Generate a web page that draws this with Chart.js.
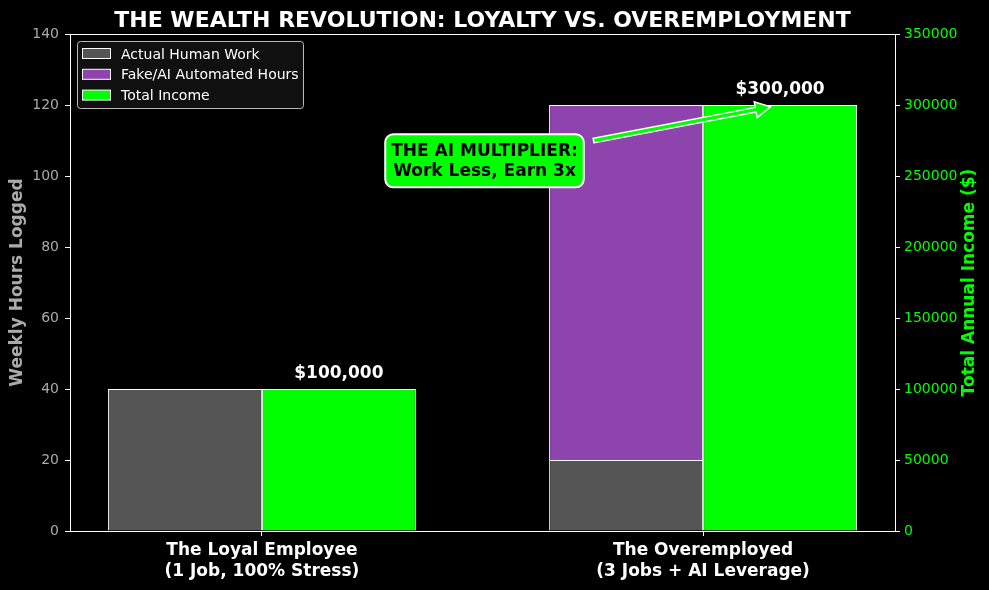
<!DOCTYPE html>
<html>
<head>
<meta charset="utf-8">
<script src="https://cdn.jsdelivr.net/npm/chart.js@4/dist/chart.umd.min.js"></script>
<style>
  html, body { margin: 0; padding: 0; background: #000; }
  #wrap { width: 989px; height: 590px; }
</style>
</head>
<body>
<div id="wrap"><canvas id="myChart"></canvas></div>
<script>
// chart values
const categories = [
  ['The Loyal Employee', '(1 Job, 100% Stress)'],
  ['The Overemployed', '(3 Jobs + AI Leverage)']
];
const groupX = [0, 1];
const humanHours = [40, 20];
const aiHours = [0, 100];
const income = [100000, 300000];
const chartTitle = 'THE WEALTH REVOLUTION: LOYALTY VS. OVEREMPLOYMENT';
const noteText = ['THE AI MULTIPLIER:', 'Work Less, Earn 3x'];
const noteAt = [0.5, 260000];
const noteTarget = [1.175, 300000];

const FONT = "'DejaVu Sans', sans-serif";
const LIME = '#00ff00';

function points(vals) {
  return vals.map((v, i) => ({ x: groupX[i], y: v }));
}

const data = {
  datasets: [
    {
      label: 'Actual Human Work',
      data: points(humanHours),
      backgroundColor: '#555555',
      borderColor: '#ffffff',
      borderWidth: 1,
      stack: 'hours',
      yAxisID: 'y'
    },
    {
      label: 'Fake/AI Automated Hours',
      data: points(aiHours),
      backgroundColor: '#8e44ad',
      borderColor: '#ffffff',
      borderWidth: 1,
      stack: 'hours',
      yAxisID: 'y'
    },
    {
      label: 'Total Income',
      data: points(income),
      backgroundColor: LIME,
      borderColor: '#ffffff',
      borderWidth: 1,
      stack: 'income',
      yAxisID: 'y2'
    }
  ]
};

// title, frame, legend, labels and the annotation
const extras = {
  id: 'extras',
  afterDraw(chart) {
    const ctx = chart.ctx;
    const area = chart.chartArea;
    const xs = chart.scales.x, ys2 = chart.scales.y2;
    ctx.save();

    // frame
    ctx.strokeStyle = '#ffffff';
    ctx.lineWidth = 1;
    ctx.strokeRect(Math.round(area.left) + 0.5, Math.round(area.top) + 0.5,
      Math.round(area.right - area.left), Math.round(area.bottom - area.top));

    // title
    ctx.fillStyle = '#ffffff';
    ctx.font = 'bold 22px ' + FONT;
    ctx.textAlign = 'center';
    ctx.textBaseline = 'alphabetic';
    ctx.fillText(chartTitle, (area.left + area.right) / 2, 27);

    // right axis title, reading upwards
    ctx.save();
    ctx.translate(970, (area.top + area.bottom) / 2);
    ctx.rotate(-Math.PI / 2);
    ctx.fillStyle = LIME;
    ctx.font = 'bold 17px ' + FONT;
    ctx.textBaseline = 'middle';
    ctx.fillText('Total Annual Income ($)', 0, 0);
    ctx.restore();

    // value labels on income bars
    const meta = chart.getDatasetMeta(2);
    ctx.fillStyle = '#ffffff';
    ctx.font = 'bold 17px ' + FONT;
    ctx.textAlign = 'center';
    meta.data.forEach((bar, i) => {
      ctx.fillText('$' + income[i].toLocaleString('en-US'), bar.x, bar.y - 11);
    });

    // annotation arrow
    const p0 = { x: xs.getPixelForValue(noteAt[0]), y: ys2.getPixelForValue(noteAt[1]) };
    const p1 = { x: xs.getPixelForValue(noteTarget[0]), y: ys2.getPixelForValue(noteTarget[1]) };
    ctx.font = 'bold 17px ' + FONT;
    const tw = Math.max(...noteText.map(t => ctx.measureText(t).width));
    const hw = tw / 2 + 6, hh = 26.5;
    const dx = p1.x - p0.x, dy = p1.y - p0.y;
    const len = Math.hypot(dx, dy);
    const ux = dx / len, uy = dy / len;
    const tExit = Math.min(hw / Math.abs(ux), hh / Math.abs(uy));
    const s = { x: p0.x + ux * (tExit + 12), y: p0.y + uy * (tExit + 12) };
    const e = { x: p1.x - ux * 10, y: p1.y - uy * 10 };
    const nx = -uy, ny = ux;
    const sw = 2.3, hwid = 8, hl = 15;
    const b = { x: e.x - ux * hl, y: e.y - uy * hl };
    ctx.beginPath();
    ctx.moveTo(s.x + nx * sw, s.y + ny * sw);
    ctx.lineTo(b.x + nx * sw, b.y + ny * sw);
    ctx.lineTo(b.x + nx * hwid, b.y + ny * hwid);
    ctx.lineTo(e.x, e.y);
    ctx.lineTo(b.x - nx * hwid, b.y - ny * hwid);
    ctx.lineTo(b.x - nx * sw, b.y - ny * sw);
    ctx.lineTo(s.x - nx * sw, s.y - ny * sw);
    ctx.closePath();
    ctx.fillStyle = LIME;
    ctx.fill();
    ctx.strokeStyle = '#ffffff';
    ctx.lineWidth = 1.5;
    ctx.stroke();

    // annotation box
    const cx = p0.x + 2, cy = p0.y - 1;
    ctx.beginPath();
    ctx.roundRect(cx - hw, cy - hh, hw * 2, hh * 2, 8);
    ctx.fillStyle = LIME;
    ctx.fill();
    ctx.strokeStyle = '#ffffff';
    ctx.lineWidth = 2;
    ctx.stroke();
    ctx.fillStyle = '#000000';
    ctx.textAlign = 'center';
    ctx.textBaseline = 'alphabetic';
    ctx.fillText(noteText[0], cx, cy - 4.5);
    ctx.fillText(noteText[1], cx, cy + 15.5);

    // legend
    const lx = area.left + 7, ly = area.top + 7;
    ctx.beginPath();
    ctx.roundRect(lx + 0.5, ly + 0.5, 226, 67, 3);
    ctx.fillStyle = '#101010';
    ctx.fill();
    ctx.strokeStyle = '#bbbbbb';
    ctx.lineWidth = 1;
    ctx.stroke();
    ctx.font = '14px ' + FONT;
    ctx.textAlign = 'left';
    chart.data.datasets.forEach((ds, i) => {
      const ry = ly + 7 + i * 20.8;
      ctx.fillStyle = ds.backgroundColor;
      ctx.fillRect(lx + 5.5, ry + 0.5, 28, 10);
      ctx.strokeStyle = '#ffffff';
      ctx.strokeRect(lx + 5.5, ry + 0.5, 28, 10);
      ctx.fillStyle = '#ffffff';
      ctx.fillText(ds.label, lx + 44, ry + 10.5);
    });

    ctx.restore();
  }
};

const config = {
  type: 'bar',
  data: data,
  options: {
    responsive: true,
    maintainAspectRatio: false,
    animation: false,
    devicePixelRatio: 1,
    layout: { padding: { top: 34, left: 0, right: 0, bottom: 0 } },
    datasets: {
      bar: { categoryPercentage: 0.698, barPercentage: 1, borderSkipped: 'start' }
    },
    plugins: {
      legend: { display: false },
      title: { display: false },
      tooltip: { enabled: false }
    },
    scales: {
      x: {
        type: 'linear',
        min: -0.435,
        max: 1.435,
        offset: false,
        afterBuildTicks: (s) => { s.ticks = groupX.map(v => ({ value: v })); },
        afterFit: (s) => { s.height = 59; },
        ticks: {
          autoSkip: false,
          maxRotation: 0,
          color: '#ffffff',
          padding: 4,
          font: { family: FONT, size: 17, weight: 'bold', lineHeight: 1.22 },
          callback: (v) => categories[groupX.indexOf(v)]
        },
        grid: { offset: false, drawOnChartArea: false, color: '#ffffff', tickLength: 5 },
        border: { color: '#ffffff' }
      },
      y: {
        position: 'left',
        min: 0,
        max: 140,
        afterFit: (s) => { s.width = 70; },
        ticks: {
          stepSize: 20,
          color: '#aaaaaa',
          padding: 6,
          font: { family: FONT, size: 14 }
        },
        grid: { drawOnChartArea: false, color: '#ffffff', tickLength: 5 },
        border: { color: '#ffffff' },
        title: {
          display: true,
          text: 'Weekly Hours Logged',
          color: '#aaaaaa',
          padding: { top: 7, bottom: 0 },
          font: { family: FONT, size: 17, weight: 'bold' }
        }
      },
      y2: {
        position: 'right',
        min: 0,
        max: 350000,
        afterFit: (s) => { s.width = 94; },
        ticks: {
          stepSize: 50000,
          color: LIME,
          padding: 4,
          font: { family: FONT, size: 14 },
          callback: (v) => String(v)
        },
        grid: { drawOnChartArea: false, color: '#ffffff', tickLength: 5 },
        border: { color: '#ffffff' }
      }
    }
  },
  plugins: [extras]
};

var myChart = new Chart(document.getElementById('myChart'), config);
</script>
</body>
</html>
